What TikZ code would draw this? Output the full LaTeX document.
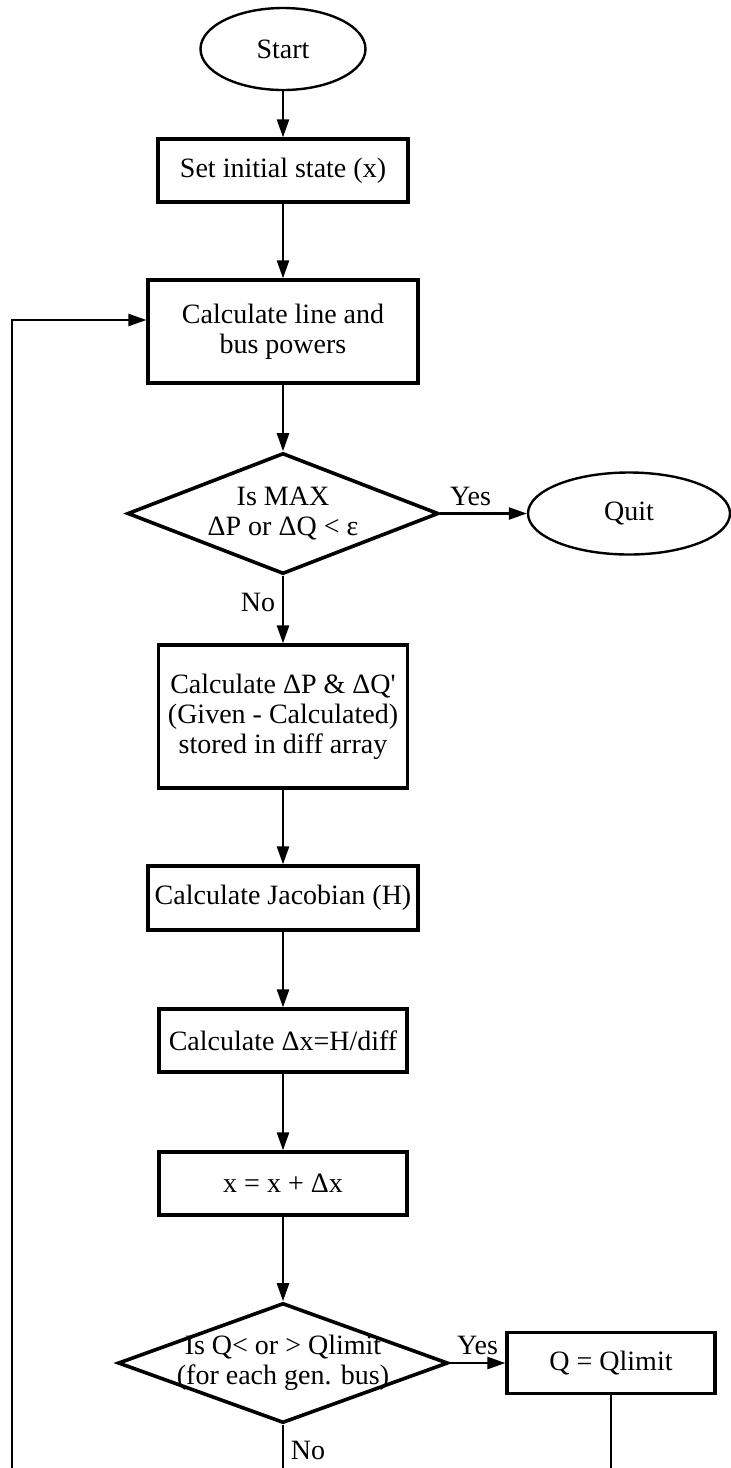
\documentclass[tikz,border=0pt]{standalone}
\usepackage{fontspec}
\setmainfont{Liberation Serif}
\usetikzlibrary{arrows.meta}
\usetikzlibrary{shapes.geometric}

\begin{document}
\begin{tikzpicture}[x=0.5pt,y=-0.5pt,
    font=\fontsize{14}{15}\selectfont,
    box/.style={draw,line width=1.6pt,rectangle,align=center,inner sep=0pt},
    term/.style={draw,line width=1.2pt,ellipse,inner sep=0pt},
    test/.style={draw,line width=1.8pt,diamond,align=center,inner sep=0pt},
    arr/.style={line width=1.2pt,-{Triangle[length=9pt,width=6pt]}},
    wire/.style={line width=1.2pt}]

    % page size
    \useasboundingbox (0,0) rectangle (731,1468);

    % start and quit
    \node[term,minimum width=82.5pt,minimum height=41pt] (start) at (283,49) {Start};
    \node[term,minimum width=101pt,minimum height=41pt] (quit) at (629,513.5) {Quit};

    % boxes
    \node[box,minimum width=125pt,minimum height=31.5pt] (init) at (283,170.5) {Set initial state (x)};
    \node[box,minimum width=135pt,minimum height=51.5pt] (calc) at (283,331.5) {Calculate line and\\bus powers};
    \node[box,minimum width=124.5pt,minimum height=71.5pt] (diff) at (283,716.5) {Calculate ΔP \& ΔQ\textquotesingle\\(Given - Calculated)\\stored in diff array};
    \node[box,minimum width=135pt,minimum height=32pt] (jac) at (283,898) {Calculate Jacobian (H)};
    \node[box,minimum width=124pt,minimum height=31.5pt] (dx) at (283,1040.5) {Calculate Δx=H/diff};
    \node[box,minimum width=124pt,minimum height=31.5pt] (upd) at (283,1183.5) {x = x + Δx};
    \node[box,minimum width=104pt,minimum height=30.5pt] (qlim) at (611,1363) {Q = Qlimit};

    % decisions
    \node[test,aspect=2.57,minimum width=155.5pt,minimum height=60.5pt] (dec1) at (283,513.5) {Is MAX\\ΔP or ΔQ < ε};
    \node[test,aspect=2.75,inner xsep=-14pt,minimum width=165pt,minimum height=60pt] (dec2) at (283,1363) {Is Q< or > Qlimit\\(for each gen. bus)};

    % loose ends at the bottom edge
    \coordinate (loopbot) at (12,1468);
    \coordinate (nobot) at (283,1468);
    \coordinate (qbot) at (611,1468);

    % connectors
    \draw[arr] (start) -- (init);
    \draw[arr] (init) -- (calc);
    \draw[arr] (calc) -- (dec1);
    \draw[arr] (dec1) -- node[above,pos=0.35] (yes1) {Yes} (quit);
    \draw[arr] (dec1) -- node[left,pos=0.4] (no1) {No} (diff);
    \draw[arr] (diff) -- (jac);
    \draw[arr] (jac) -- (dx);
    \draw[arr] (dx) -- (upd);
    \draw[arr] (upd) -- (dec2);
    \draw[arr] (dec2) -- node[above,pos=0.5] (yes2) {Yes} (qlim);
    \draw[wire] (dec2) -- node[right,pos=0.6] (no2) {No} (nobot);
    \draw[wire] (qlim) -- (qbot);

    % loop back
    \draw[arr] (loopbot) |- ([yshift=5.75pt]calc.west);

\end{tikzpicture}
\end{document}
